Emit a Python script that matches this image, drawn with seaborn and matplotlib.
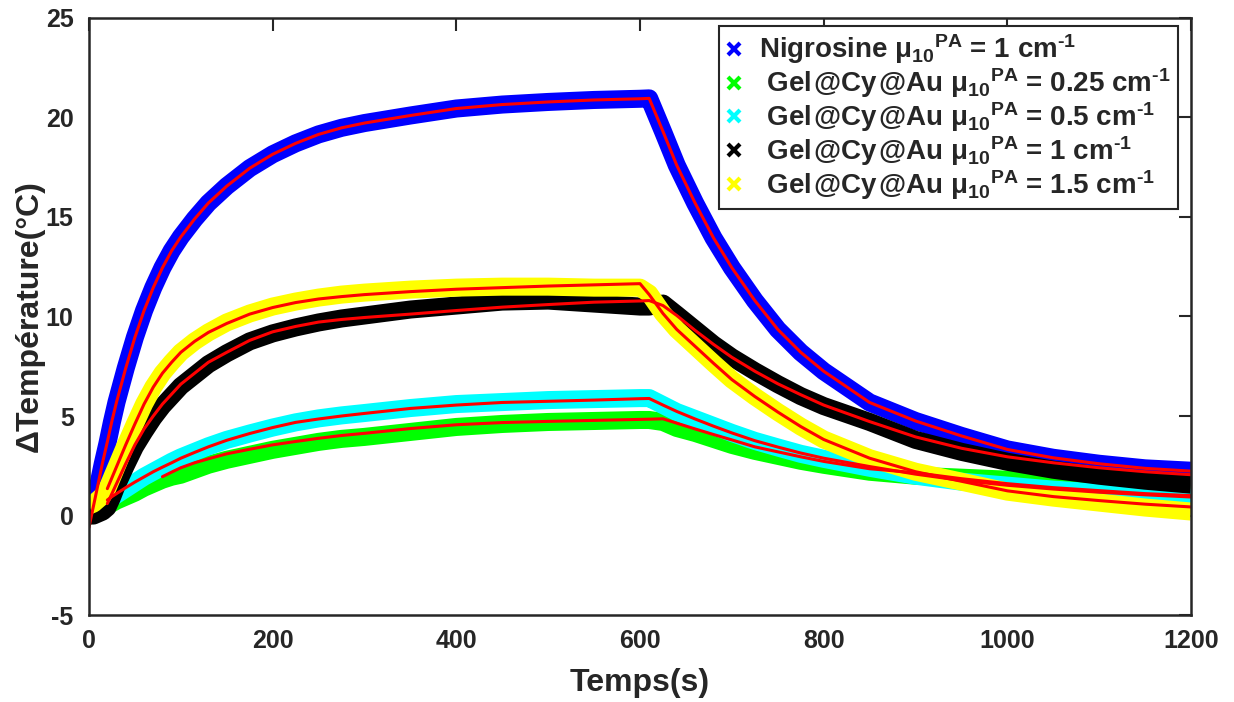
import numpy as np
import matplotlib
matplotlib.use("Agg")
import matplotlib.pyplot as plt
from matplotlib.lines import Line2D
import seaborn as sns

temps = [0, 5, 10, 15, 20, 25, 30, 40, 50, 60, 70, 80, 90, 100, 115, 130, 150, 175, 200, 225,
         250, 275, 300, 350, 400, 450, 500, 550, 600, 610, 625, 640, 660, 680, 700, 725, 750, 775,
         800, 850, 900, 950, 1000, 1050, 1100, 1150, 1200]
nan = np.nan

# measured data (delta T, degC)
nigrosine = [0.1, 0.5, 1.5, 2.6, 3.6, 4.7, 5.7, 7.4, 8.95, 10.3, 11.45, 12.45, 13.3, 14.0, 14.9,
             15.7, 16.55, 17.45, 18.15, 18.7, 19.15, 19.48, 19.72, 20.1, 20.45, 20.65, 20.78, 20.88,
             20.94, 20.96, 19.3, 17.6, 15.7, 13.95, 12.45, 10.8, 9.35, 8.2, 7.25, 5.68, 4.75, 4.0,
             3.32, 2.9, 2.6, 2.37, 2.25]
gel_025 = [0.0, 0.05, 0.2, 0.35, 0.5, 0.62, 0.75, 0.95, 1.15, 1.4, 1.6, 1.8, 1.95, 2.05, 2.3, 2.55,
           2.8, 3.05, 3.3, 3.5, 3.7, 3.85, 3.95, 4.2, 4.45, 4.6, 4.7, 4.75, 4.8, 4.8, 4.7, 4.4, 4.15,
           3.85, 3.55, 3.25, 3.0, 2.75, 2.55, 2.2, 2.0, 1.9, 1.8, 1.7, 1.6, 1.5, 1.4]
gel_05 = [0.0, 0.1, 0.3, 0.5, 0.7, 0.9, 1.05, 1.35, 1.65, 1.95, 2.2, 2.45, 2.7, 2.92, 3.2, 3.48,
          3.8, 4.12, 4.42, 4.68, 4.88, 5.03, 5.15, 5.4, 5.6, 5.7, 5.8, 5.85, 5.9, 5.9, 5.55, 5.2,
          4.85, 4.5, 4.15, 3.75, 3.42, 3.1, 2.85, 2.4, 2.0, 1.7, 1.5, 1.3, 1.15, 1.0, 0.9]
gel_1 = [0.0, 0.0, 0.1, 0.2, 0.4, 0.9, 1.5, 2.5, 3.45, 4.2, 4.9, 5.5, 6.0, 6.5, 7.05, 7.6, 8.15,
         8.75, 9.15, 9.45, 9.7, 9.9, 10.05, 10.35, 10.55, 10.75, 10.8, 10.65, 10.5, 10.5, 10.65,
         10.1, 9.35, 8.6, 7.95, 7.25, 6.6, 6.0, 5.5, 4.7, 3.8, 3.2, 2.7, 2.3, 2.0, 1.75, 1.55]
gel_15 = [0.5, 0.6, 0.8, 1.0, 1.35, 1.9, 2.45, 3.55, 4.6, 5.6, 6.45, 7.15, 7.7, 8.2, 8.75, 9.2,
          9.7, 10.15, 10.5, 10.75, 10.95, 11.1, 11.2, 11.35, 11.45, 11.5, 11.5, 11.45, 11.45, 11.15,
          10.15, 9.35, 8.5, 7.65, 6.83, 5.98, 5.2, 4.47, 3.82, 2.88, 2.2, 1.7, 1.2, 0.9, 0.65, 0.4,
          0.2]

# fitted curves (red)
fit_nigrosine = [-0.6, 0.5, 1.6, 2.7, 3.7, 4.75, 5.7, 7.4, 8.95, 10.3, 11.45, 12.45, 13.3, 14.0,
                 14.9, 15.7, 16.55, 17.45, 18.15, 18.7, 19.15, 19.48, 19.72, 20.1, 20.45, 20.65,
                 20.78, 20.88, 20.94, 20.96, 19.3, 17.6, 15.7, 13.95, 12.45, 10.8, 9.35, 8.2, 7.25,
                 5.68, 4.75, 4.0, 3.32, 2.9, 2.6, 2.37, 2.23]
fit_025 = [nan, nan, nan, nan, nan, nan, nan, nan, nan, nan, nan, 1.95, 2.18, 2.4, 2.65, 2.85, 3.1,
           3.33, 3.55, 3.72, 3.88, 4.02, 4.13, 4.37, 4.56, 4.67, 4.73, 4.78, 4.83, 4.84, 4.86, 4.64,
           4.35, 4.07, 3.8, 3.45, 3.2, 2.95, 2.72, 2.35, 2.15, 1.85, 1.6, 1.4, 1.25, 1.1, 1.0]
fit_05 = [nan, nan, nan, nan, 0.78, 0.95, 1.1, 1.4, 1.68, 1.94, 2.2, 2.43, 2.65, 2.88, 3.17, 3.45,
          3.78, 4.12, 4.42, 4.68, 4.85, 5.0, 5.13, 5.38, 5.55, 5.68, 5.74, 5.8, 5.87, 5.88, 5.55,
          5.23, 4.85, 4.49, 4.15, 3.76, 3.44, 3.14, 2.88, 2.46, 2.08, 1.76, 1.52, 1.33, 1.17, 1.04,
          0.93]
fit_1 = [nan, nan, nan, nan, 0.6, 1.1, 1.6, 2.6, 3.55, 4.35, 5.0, 5.6, 6.1, 6.6, 7.15, 7.7, 8.2,
         8.8, 9.23, 9.5, 9.72, 9.85, 9.95, 10.12, 10.3, 10.47, 10.6, 10.72, 10.78, 10.8, 10.55,
         10.05, 9.3, 8.6, 7.95, 7.25, 6.62, 6.07, 5.55, 4.72, 3.95, 3.38, 2.95, 2.65, 2.4, 2.2, 2.05]
fit_15 = [nan, nan, nan, nan, 1.35, 1.9, 2.45, 3.55, 4.6, 5.6, 6.45, 7.15, 7.7, 8.2, 8.75, 9.2,
          9.65, 10.12, 10.45, 10.7, 10.88, 11.0, 11.1, 11.25, 11.37, 11.45, 11.53, 11.59, 11.65,
          11.1, 10.15, 9.35, 8.5, 7.65, 6.83, 5.98, 5.2, 4.47, 3.82, 2.88, 2.2, 1.72, 1.24, 0.95,
          0.75, 0.57, 0.43]

mu = r"μ$_{\mathbf{10}}{}^{\mathbf{PA}}$"
cm = r"cm$^{\mathbf{‐1}}$"
gel = "Gel\u200a@Cy\u200a@Au"
labels = [
    f"Nigrosine {mu} = 1 {cm}",
    f" {gel} {mu} = 0.25 {cm}",
    f" {gel} {mu} = 0.5 {cm}",
    f" {gel} {mu} = 1 {cm}",
    f" {gel} {mu} = 1.5 {cm}",
]
colors = ["#0000ff", "#00ff00", "#00ffff", "#000000", "#ffff00"]
data = [nigrosine, gel_025, gel_05, gel_1, gel_15]
fits = [fit_nigrosine, fit_025, fit_05, fit_1, fit_15]

sns.set_style("white")
plt.rcParams["font.family"] = ["Liberation Sans", "DejaVu Sans"]
plt.rcParams["font.weight"] = "bold"
plt.rcParams["axes.unicode_minus"] = False
plt.rcParams["mathtext.fontset"] = "custom"
plt.rcParams["mathtext.bf"] = "Liberation Sans:bold"
plt.rcParams["mathtext.rm"] = "Liberation Sans:bold"
plt.rcParams["mathtext.it"] = "Liberation Sans:bold"

fig = plt.figure(figsize=(12.34, 7.02), dpi=100)
ax = fig.add_axes([0.0721, 0.1239, 0.8931, 0.8505])

# noisy measurements drawn as thick bands
for vals, c in zip(data, colors):
    sns.lineplot(x=temps, y=vals, color=c, linewidth=13, ax=ax, legend=False,
                 solid_joinstyle="round", solid_capstyle="butt")

# red fits on top
for vals in fits:
    sns.lineplot(x=temps, y=vals, color="#ff0000", linewidth=2.2, ax=ax, legend=False)

ax.set_xlim(0, 1200)
ax.set_ylim(-5, 25)
ax.set_xticks(range(0, 1201, 200))
ax.set_yticks(range(-5, 26, 5))
ax.tick_params(direction="in", length=9, width=1.5, top=True, right=True,
               labelsize=18, colors="#262626")
ax.tick_params(axis="x", pad=10)
ax.tick_params(axis="y", pad=11)
for lab in ax.get_xticklabels() + ax.get_yticklabels():
    lab.set_fontweight("bold")
for sp in ax.spines.values():
    sp.set_visible(True)
    sp.set_color("#262626")
    sp.set_linewidth(1.8)

ax.set_xlabel("Temps(s)", fontsize=23, fontweight="bold", color="#262626", labelpad=11)
ax.set_ylabel("ΔTempérature(°C)", fontsize=23, fontweight="bold", color="#262626", labelpad=1)

handles = [Line2D([], [], linestyle="none", marker="x", markersize=8, markeredgewidth=3,
                  color=c) for c in colors]
leg = ax.legend(handles, labels, loc="upper right", bbox_to_anchor=(0.988, 0.987),
                borderaxespad=0, fontsize=20, frameon=True, fancybox=False,
                edgecolor="#262626", framealpha=1, handlelength=0.6, handletextpad=0.6,
                labelspacing=0.0, borderpad=0.25)
leg.get_frame().set_linewidth(1.5)
for txt in leg.get_texts():
    txt.set_fontweight("bold")

fig.savefig("out.png", dpi=100)
